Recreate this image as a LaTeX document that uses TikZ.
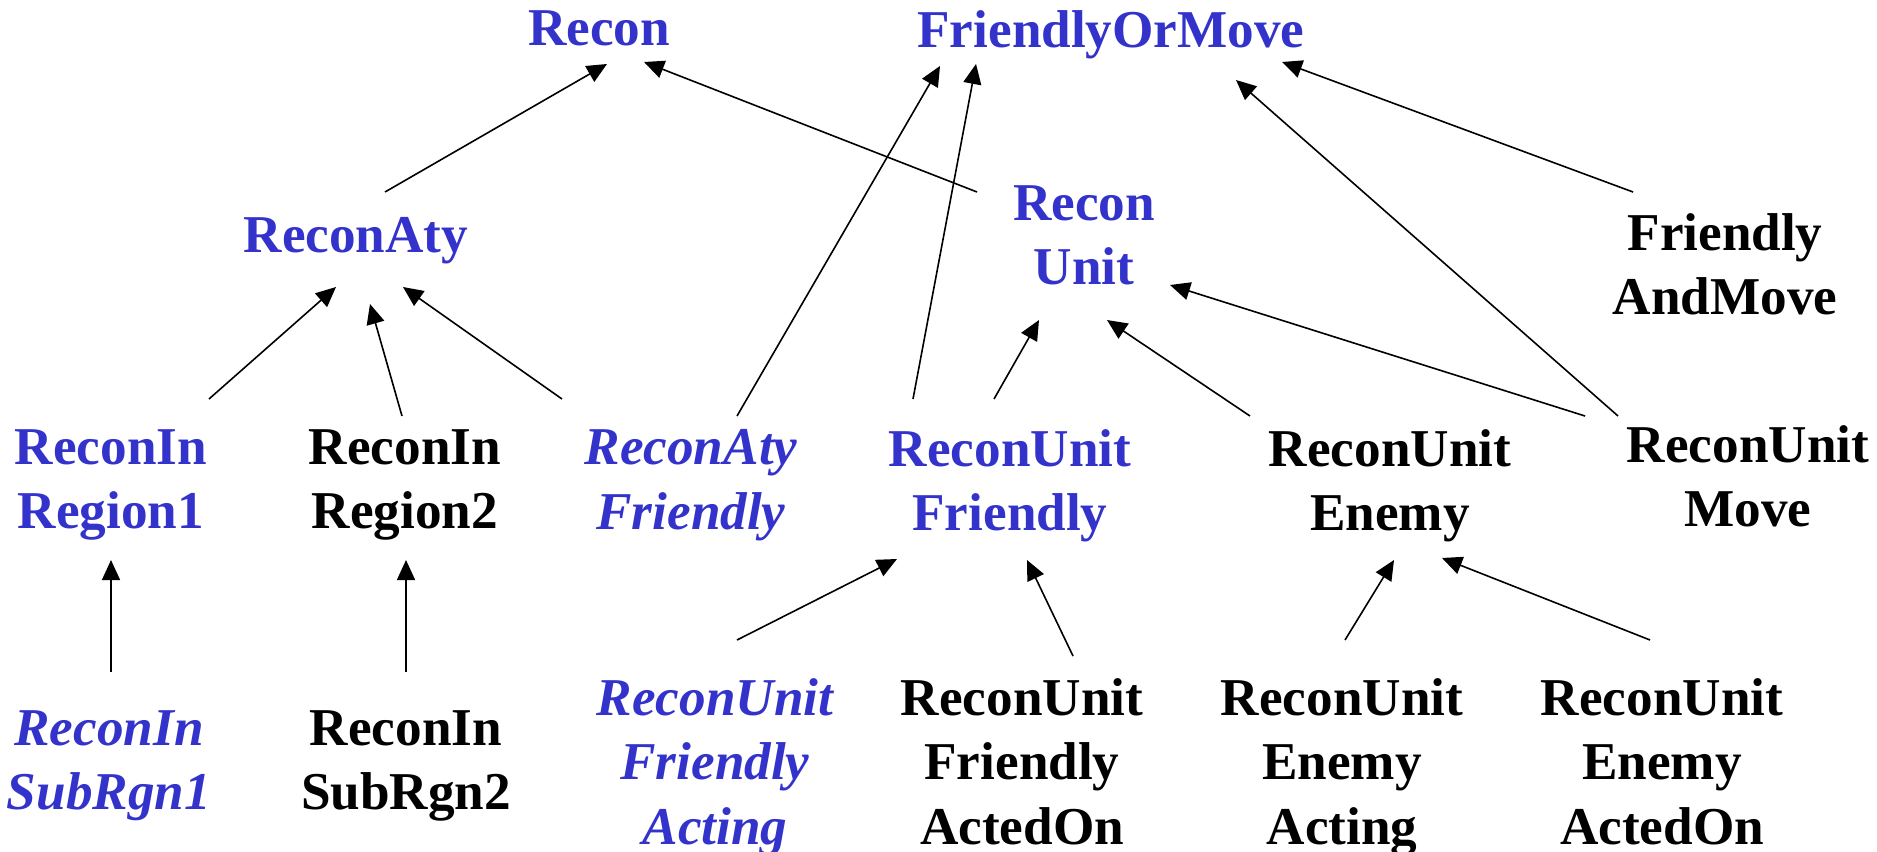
\documentclass[tikz,border=0pt]{standalone}
\usepackage{fontspec}
\setmainfont{Liberation Serif}
\usetikzlibrary{arrows.meta}
\definecolor{nblue}{RGB}{51,51,204}
\begin{document}
\begin{tikzpicture}[x=0.5pt,y=-0.5pt,
  lbl/.style={align=center,inner sep=0pt,anchor=north,font=\fontsize{26.6}{32.3}\selectfont\bfseries},
  bl/.style={lbl,text=nblue},
  bk/.style={lbl,text=black},
  itl/.style={font=\fontsize{26.6}{32.3}\selectfont\bfseries\itshape},
  arr/.style={-{Triangle[length=10pt,width=9pt]},line width=0.8pt}]
\useasboundingbox (0,0) rectangle (1877,851);
% top
\node[bl] (r) at (599,10) {Recon};
\node[bl] (fom) at (1111,10) {FriendlyOrMove};
% second
\node[bl] (ra) at (356,217) {ReconAty};
\node[bl] (ru) at (1084,185) {Recon\\Unit};
\node[bk] (fam) at (1725,213) {Friendly\\AndMove};
% third
\node[bl] (rir1) at (111,429) {ReconIn\\Region1};
\node[bk] (rir2) at (405,429) {ReconIn\\Region2};
\node[bl,itl] (raf) at (691,429) {ReconAty\\Friendly};
\node[bl] (ruf) at (1010,429) {ReconUnit\\Friendly};
\node[bk] (rue) at (1390,429) {ReconUnit\\Enemy};
\node[bk] (rum) at (1748,425) {ReconUnit\\Move};
% bottom
\node[bl,itl] (rsr1) at (109,710) {ReconIn\\SubRgn1};
\node[bk] (rsr2) at (406,710) {ReconIn\\SubRgn2};
\node[bl,itl] (rufa) at (715,678) {ReconUnit\\Friendly\\Acting};
\node[bk] (rufo) at (1022,678) {ReconUnit\\Friendly\\ActedOn};
\node[bk] (ruea) at (1342,678) {ReconUnit\\Enemy\\Acting};
\node[bk] (rueo) at (1662,678) {ReconUnit\\Enemy\\ActedOn};
% edges
\draw[arr] ([shift={(29,-25)}]ra.north) -- ([shift={(8,54)}]r.north);
\draw[arr] ([shift={(-107,7)}]ru.north) -- ([shift={(45,52)}]r.north);
\draw[arr] ([shift={(46,-13)}]raf.north) -- ([shift={(-171,56)}]fom.north);
\draw[arr] ([shift={(-97,-30)}]ruf.north) -- ([shift={(-135,54)}]fom.north);
\draw[arr] ([shift={(-130,-9)}]rum.north) -- ([shift={(125,70)}]fom.north);
\draw[arr] ([shift={(-92,-21)}]fam.north) -- ([shift={(171,52)}]fom.north);
\draw[arr] ([shift={(98,-30)}]rir1.north) -- ([shift={(-20,70)}]ra.north);
\draw[arr] ([shift={(-3,-13)}]rir2.north) -- ([shift={(14,87)}]ra.north);
\draw[arr] ([shift={(-129,-30)}]raf.north) -- ([shift={(47,70)}]ra.north);
\draw[arr] ([shift={(-16,-30)}]ruf.north) -- ([shift={(-45,135)}]ru.north);
\draw[arr] ([shift={(-140,-13)}]rue.north) -- ([shift={(23,135)}]ru.north);
\draw[arr] ([shift={(-163,-9)}]rum.north) -- ([shift={(86,100)}]ru.north);
\draw[arr] ([shift={(2,-38)}]rsr1.north) -- ([shift={(0,131)}]rir1.north);
\draw[arr] ([shift={(0,-38)}]rsr2.north) -- ([shift={(1,131)}]rir2.north);
\draw[arr] ([shift={(22,-38)}]rufa.north) -- ([shift={(-113,130)}]ruf.north);
\draw[arr] ([shift={(51,-22)}]rufo.north) -- ([shift={(17,131)}]ruf.north);
\draw[arr] ([shift={(3,-38)}]ruea.north) -- ([shift={(4,131)}]rue.north);
\draw[arr] ([shift={(-12,-38)}]rueo.north) -- ([shift={(52,129)}]rue.north);
\end{tikzpicture}
\end{document}
